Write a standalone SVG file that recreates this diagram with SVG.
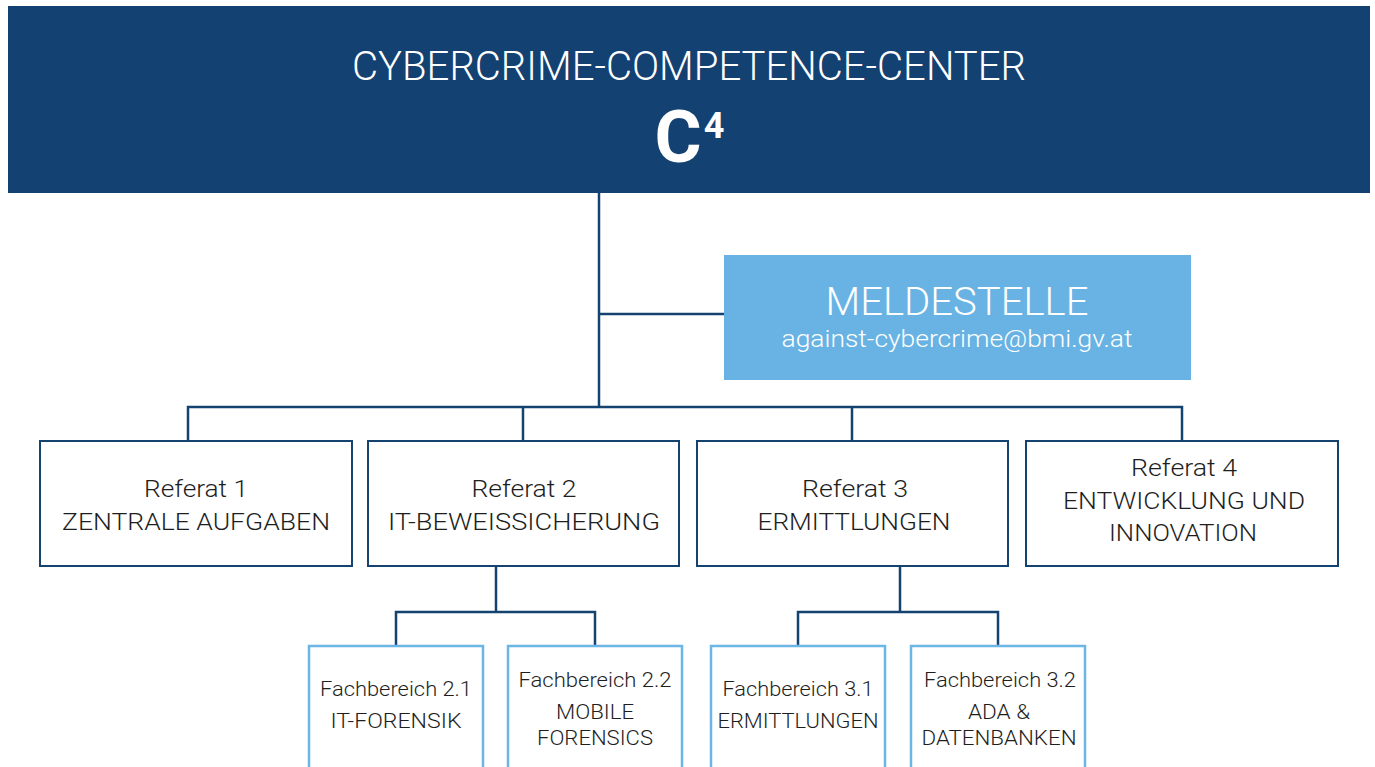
<svg xmlns="http://www.w3.org/2000/svg" width="1375" height="767" viewBox="0 0 1375 767">
<style>
.ref{fill:#fff;stroke:#15436f;stroke-width:2}
.fb{fill:#fff;stroke:#6cb6e6;stroke-width:2.5}
.con{fill:none;stroke:#15436f;stroke-width:2.5}
.t{font-family:Roboto,"Liberation Sans",sans-serif;font-weight:300;fill:#1e1e1e;text-anchor:middle}
.w{font-family:Roboto,"Liberation Sans",sans-serif;font-weight:300;fill:#fff;text-anchor:middle}
</style>
<rect width="1375" height="767" fill="#fff"/>
<g id="connectors">
<path class="con" d="M599 193V407M599 314H724M188 441V407H1182V441M523 407V441M852 407V441"/>
<path class="con" d="M496 566V612M396 646V612H595V646"/>
<path class="con" d="M900 566V612M798 646V612H998V646"/>
</g>
<g id="header">
<rect x="8" y="6" width="1362" height="187" fill="#134172"/>
<text class="w" x="689" y="80" font-size="41" textLength="674" lengthAdjust="spacingAndGlyphs">CYBERCRIME-COMPETENCE-CENTER</text>
<text class="w" x="678" y="162" font-size="72" style="font-weight:700">C</text>
<text class="w" x="714" y="138" font-size="36" style="font-weight:700">4</text>
</g>
<g id="meldestelle">
<rect x="724" y="255" width="467" height="125" fill="#68b3e3"/>
<text class="w" x="957" y="315" font-size="38" textLength="263" lengthAdjust="spacingAndGlyphs">MELDESTELLE</text>
<text class="w" x="957" y="347" font-size="24" textLength="351" lengthAdjust="spacingAndGlyphs">against-cybercrime@bmi.gv.at</text>
</g>
<g id="referat1">
<rect class="ref" x="40" y="441" width="312" height="125"/>
<text class="t" x="196" y="497" font-size="24.5" textLength="104" lengthAdjust="spacingAndGlyphs">Referat 1</text>
<text class="t" x="196" y="530" font-size="24.5" textLength="268" lengthAdjust="spacingAndGlyphs">ZENTRALE AUFGABEN</text>
</g>
<g id="referat2">
<rect class="ref" x="368" y="441" width="311" height="125"/>
<text class="t" x="524" y="497" font-size="24.5" textLength="105" lengthAdjust="spacingAndGlyphs">Referat 2</text>
<text class="t" x="524" y="530" font-size="24.5" textLength="272" lengthAdjust="spacingAndGlyphs">IT-BEWEISSICHERUNG</text>
</g>
<g id="referat3">
<rect class="ref" x="697" y="441" width="311" height="125"/>
<text class="t" x="855" y="497" font-size="24.5" textLength="106" lengthAdjust="spacingAndGlyphs">Referat 3</text>
<text class="t" x="854" y="530" font-size="24.5" textLength="193" lengthAdjust="spacingAndGlyphs">ERMITTLUNGEN</text>
</g>
<g id="referat4">
<rect class="ref" x="1026" y="441" width="312" height="125"/>
<text class="t" x="1184" y="476" font-size="24.5" textLength="106" lengthAdjust="spacingAndGlyphs">Referat 4</text>
<text class="t" x="1184" y="509" font-size="24.5" textLength="242" lengthAdjust="spacingAndGlyphs">ENTWICKLUNG UND</text>
<text class="t" x="1183" y="541" font-size="24.5" textLength="148" lengthAdjust="spacingAndGlyphs">INNOVATION</text>
</g>
<g id="fb21">
<rect class="fb" x="309" y="646" width="174" height="130"/>
<text class="t" x="396" y="696" font-size="19.5" textLength="152" lengthAdjust="spacingAndGlyphs">Fachbereich 2.1</text>
<text class="t" x="396" y="728" font-size="19.5" textLength="131" lengthAdjust="spacingAndGlyphs">IT-FORENSIK</text>
</g>
<g id="fb22">
<rect class="fb" x="508" y="646" width="174" height="130"/>
<text class="t" x="595" y="687" font-size="19.5" textLength="153" lengthAdjust="spacingAndGlyphs">Fachbereich 2.2</text>
<text class="t" x="595" y="719" font-size="19.5" textLength="78" lengthAdjust="spacingAndGlyphs">MOBILE</text>
<text class="t" x="595" y="745" font-size="19.5" textLength="116" lengthAdjust="spacingAndGlyphs">FORENSICS</text>
</g>
<g id="fb31">
<rect class="fb" x="711" y="646" width="174" height="130"/>
<text class="t" x="798" y="696" font-size="19.5" textLength="151" lengthAdjust="spacingAndGlyphs">Fachbereich 3.1</text>
<text class="t" x="798" y="728" font-size="19.5" textLength="161" lengthAdjust="spacingAndGlyphs">ERMITTLUNGEN</text>
</g>
<g id="fb32">
<rect class="fb" x="911" y="646" width="174" height="130"/>
<text class="t" x="1000" y="687" font-size="19.5" textLength="152" lengthAdjust="spacingAndGlyphs">Fachbereich 3.2</text>
<text class="t" x="999" y="719" font-size="19.5" textLength="62" lengthAdjust="spacingAndGlyphs">ADA &amp;</text>
<text class="t" x="999" y="745" font-size="19.5" textLength="155" lengthAdjust="spacingAndGlyphs">DATENBANKEN</text>
</g>
</svg>
